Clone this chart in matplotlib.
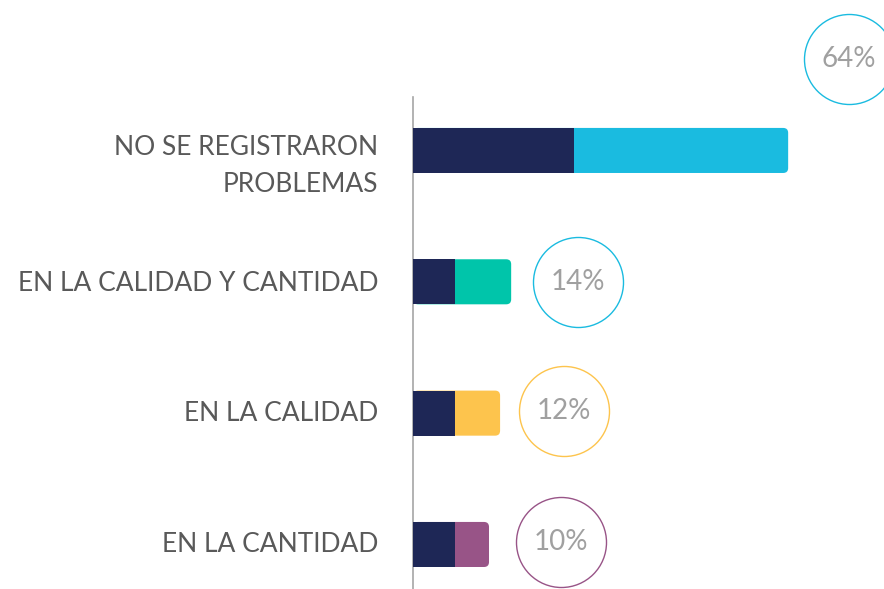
import numpy as np
import matplotlib
matplotlib.use('Agg')
import matplotlib.pyplot as plt
from matplotlib.patches import FancyBboxPatch

# data
categories = ['NO SE REGISTRARON\nPROBLEMAS', 'EN LA CALIDAD Y CANTIDAD', 'EN LA CALIDAD', 'EN LA CANTIDAD']
values = [64, 14, 12, 10]
dark_part = [29, 7.5, 7.5, 7.5]   # navy segment, measured from the axis line
pct_labels = ['64%', '14%', '12%', '10%']

bar_colors = ['#1ABBE0', '#00C5AA', '#FDC44D', '#985487']
ring_colors = ['#1ABBE0', '#1ABBE0', '#FDC44D', '#985487']
navy = '#1E2756'

plt.rcParams['font.family'] = ['Lato', 'DejaVu Sans']

fig = plt.figure(figsize=(8.84, 5.89), dpi=100)
ax = fig.add_axes([413 / 884, 0, 471 / 884, 1 - 97 / 589])

xmin, xmax = -3.72, 81.3
ax.set_xlim(xmin, xmax)
ax.set_ylim(3.339, -0.407)

y = np.arange(len(values))
h = 0.343

# coloured bars with rounded right end
for yi, v, c in zip(y, values, bar_colors):
    ax.add_patch(FancyBboxPatch((xmin, yi - h / 2), v - xmin, h,
                                boxstyle='round,pad=0,rounding_size=0.9',
                                mutation_aspect=0.042, fc=c, ec='none', zorder=2))

# navy segment on top
ax.barh(y, dark_part, left=xmin, height=h, color=navy, zorder=3)

# rings with percentages
ring_dy = [-0.70, 0, -0.02, -0.02]
ring_dx = [11, 12, 11.5, 13]
for yi, v, lab, rc, dx, dy in zip(y, values, pct_labels, ring_colors, ring_dx, ring_dy):
    cx = v + dx
    ax.scatter([cx], [yi + dy], s=4200, facecolor='white', edgecolor=rc,
               linewidth=1.0, zorder=4, clip_on=False)
    ax.text(cx, yi + dy, lab, ha='center', va='center', fontsize=20,
            color='#A0A0A0', zorder=5, clip_on=False)

# category labels
label_dy = [0.12, 0.01, 0.0, 0.0]
for yi, cat, dy in zip(y, categories, label_dy):
    ax.text(xmin - 35 / 5.54, yi + dy, cat, ha='right', va='center', fontsize=19,
            color='#595959', linespacing=1.62)

for s in ['top', 'right', 'bottom']:
    ax.spines[s].set_visible(False)
ax.spines['left'].set_color('#A6A6A6')
ax.spines['left'].set_linewidth(1.2)
ax.set_xticks([])
ax.set_yticks([])

fig.savefig('out.png', dpi=100)
